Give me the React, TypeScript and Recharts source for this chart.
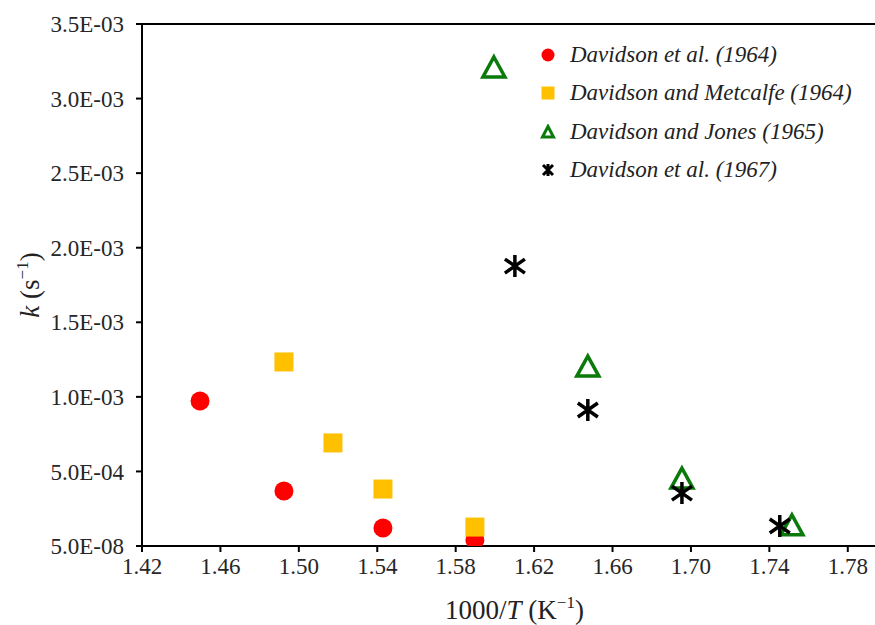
import { ScatterChart, Scatter, XAxis, YAxis, ReferenceLine } from "recharts";

const davidson1964X = [1.4496, 1.4924, 1.5429, 1.5898];
const davidson1964Y = [9.72e-4, 3.69e-4, 1.21e-4, 4.0e-5];

const metcalfeX = [1.4924, 1.5174, 1.5429, 1.5898];
const metcalfeY = [1.234e-3, 6.91e-4, 3.82e-4, 1.27e-4];

const jonesX = [1.5995, 1.6474, 1.6954, 1.7515];
const jonesY = [3.205e-3, 1.2e-3, 4.49e-4, 1.35e-4];

const davidson1967X = [1.6102, 1.6474, 1.6954, 1.7453];
const davidson1967Y = [1.877e-3, 9.12e-4, 3.55e-4, 1.34e-4];

const xTicks = [1.42, 1.46, 1.5, 1.54, 1.58, 1.62, 1.66, 1.7, 1.74, 1.78];
const yTicks = [5e-8, 5e-4, 1e-3, 1.5e-3, 2e-3, 2.5e-3, 3e-3, 3.5e-3];

const toPoints = (xs: number[], ys: number[]) =>
  xs.map((x, i) => ({ x, y: ys[i] }));

const RED = "#FF0000";
const GOLD = "#FFC000";
const GREEN = "#0A7A0A";
const FONT = "'Liberation Serif', 'Times New Roman', serif";

const fmtY = (v: number) => {
  const [m, e] = v.toExponential(1).split("e");
  const n = parseInt(e, 10);
  return `${m}E${n < 0 ? "-" : "+"}${String(Math.abs(n)).padStart(2, "0")}`;
};

// marker shapes
const CircleMark = (p: any) => <circle cx={p.cx} cy={p.cy} r={9.5} fill={RED} />;
const SquareMark = (p: any) => (
  <rect x={p.cx - 9.5} y={p.cy - 9.5} width={19} height={19} fill={GOLD} />
);
const TriangleMark = (p: any) => (
  <path
    d={`M${p.cx},${p.cy - 11} L${p.cx + 11},${p.cy + 9} L${p.cx - 11},${p.cy + 9} Z`}
    fill="none"
    stroke={GREEN}
    strokeWidth={3.5}
  />
);
const StarMark = (p: any) => (
  <path
    d={`M${p.cx},${p.cy - 11} L${p.cx},${p.cy + 11} M${p.cx - 10},${p.cy - 7} L${p.cx + 10},${p.cy + 7} M${p.cx - 10},${p.cy + 7} L${p.cx + 10},${p.cy - 7}`}
    stroke="#000"
    strokeWidth={3.5}
    fill="none"
  />
);

const legendItems = [
  { name: "Davidson et al. (1964)", kind: "circle" },
  { name: "Davidson and Metcalfe (1964)", kind: "square" },
  { name: "Davidson and Jones (1965)", kind: "triangle" },
  { name: "Davidson et al. (1967)", kind: "star" },
];

const LegendIcon = ({ kind }: { kind: string }) => (
  <svg width={16} height={16} style={{ display: "block", flexShrink: 0 }}>
    {kind === "circle" && <circle cx={8} cy={8} r={6.5} fill={RED} />}
    {kind === "square" && <rect x={1.5} y={1.5} width={13} height={13} fill={GOLD} />}
    {kind === "triangle" && (
      <path d="M8,2.5 L13.5,13 L2.5,13 Z" fill="none" stroke={GREEN} strokeWidth={3} />
    )}
    {kind === "star" && (
      <path d="M3,3 L13,13 M3,13 L13,3 M8,2 L8,14" stroke="#000" strokeWidth={3} />
    )}
  </svg>
);

const YLabel = (props: any) => {
  const { viewBox } = props;
  const cy = viewBox.y + viewBox.height / 2;
  return (
    <text
      transform={`translate(39,${cy}) rotate(-90)`}
      textAnchor="middle"
      fontFamily={FONT}
      fontSize={27}
      fill="#222"
    >
      <tspan fontStyle="italic">k</tspan>
      <tspan> (s</tspan>
      <tspan fontSize={17} dy={-11}>−1</tspan>
      <tspan dy={11}>)</tspan>
    </text>
  );
};

const XLabel = (props: any) => {
  const { viewBox } = props;
  const cx = viewBox.x + viewBox.width / 2;
  return (
    <text x={cx} y={619} textAnchor="middle" fontFamily={FONT} fontSize={27} fill="#222">
      <tspan>1000/</tspan>
      <tspan fontStyle="italic">T</tspan>
      <tspan> (K</tspan>
      <tspan fontSize={17} dy={-11}>−1</tspan>
      <tspan dy={11}>)</tspan>
    </text>
  );
};

const tickStyle = { fontFamily: FONT, fontSize: 23, fill: "#262626" };

export default function App() {
  return (
    <div
      style={{
        width: 875,
        height: 625,
        overflow: "hidden",
        position: "relative",
      }}
    >
      <style>{`body { margin: 0; }`}</style>
      <ScatterChart
        width={908}
        height={625}
        margin={{ top: 24, right: 21, bottom: 19, left: 0 }}
      >
        <XAxis
          type="number"
          dataKey="x"
          domain={[1.42, 1.8]}
          ticks={xTicks}
          tickFormatter={(v: number) => v.toFixed(2)}
          allowDataOverflow
          height={60}
          tickSize={6}
          tickMargin={6}
          tick={tickStyle}
          axisLine={{ stroke: "#000", strokeWidth: 2 }}
          tickLine={{ stroke: "#000", strokeWidth: 2 }}
          label={<XLabel />}
        />
        <YAxis
          type="number"
          dataKey="y"
          domain={[5e-8, 3.5e-3]}
          ticks={yTicks}
          tickFormatter={fmtY}
          allowDataOverflow
          width={142}
          tickSize={6}
          tickMargin={12}
          tick={tickStyle}
          axisLine={{ stroke: "#000", strokeWidth: 2 }}
          tickLine={{ stroke: "#000", strokeWidth: 2 }}
          label={<YLabel />}
        />
        <ReferenceLine y={3.5e-3} stroke="#000" strokeWidth={2} />
        <Scatter
          name="Davidson et al. (1964)"
          data={toPoints(davidson1964X, davidson1964Y)}
          shape={CircleMark}
          isAnimationActive={false}
        />
        <Scatter
          name="Davidson and Metcalfe (1964)"
          data={toPoints(metcalfeX, metcalfeY)}
          shape={SquareMark}
          isAnimationActive={false}
        />
        <Scatter
          name="Davidson and Jones (1965)"
          data={toPoints(jonesX, jonesY)}
          shape={TriangleMark}
          isAnimationActive={false}
        />
        <Scatter
          name="Davidson et al. (1967)"
          data={toPoints(davidson1967X, davidson1967Y)}
          shape={StarMark}
          isAnimationActive={false}
        />
      </ScatterChart>
      {/* legend drawn by hand so it doesn't eat plot space */}
      <div
        style={{
          position: "absolute",
          top: 36,
          left: 540,
          fontFamily: FONT,
          fontStyle: "italic",
          fontSize: 23,
          color: "#222",
        }}
      >
        {legendItems.map((it) => (
          <div key={it.name} style={{ display: "flex", alignItems: "center", height: 38.3 }}>
            <LegendIcon kind={it.kind} />
            <span style={{ marginLeft: 14, whiteSpace: "nowrap" }}>{it.name}</span>
          </div>
        ))}
      </div>
    </div>
  );
}
